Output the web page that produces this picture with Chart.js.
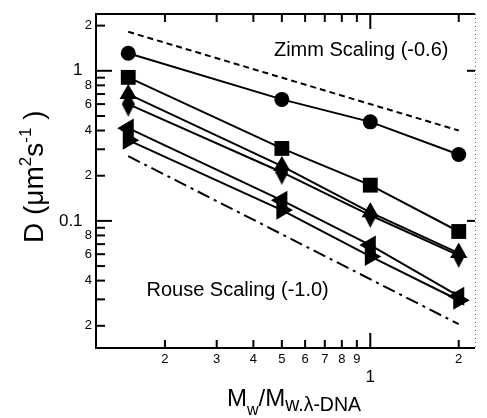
<!DOCTYPE html>
<html>
<head>
<meta charset="utf-8">
<script src="https://cdn.jsdelivr.net/npm/chart.js@4.4.1/dist/chart.umd.min.js"></script>
<style>
  html, body { margin: 0; padding: 0; background: #fff; }
  #wrap { width: 487px; height: 418px; position: relative; }
</style>
</head>
<body>
<div id="wrap"><canvas id="chart"></canvas></div>
<script>
// M_w / M_w,lambda-DNA
const ratio = [0.15, 0.5, 1, 2];

// D (um^2 s^-1), one array per marker
const dCircle = [1.31, 0.645, 0.457, 0.277];
const dSquare = [0.904, 0.304, 0.173, 0.085];
const dTriUp = [0.70, 0.232, 0.114, 0.061];
const dDiamond = [0.60, 0.211, 0.109, 0.059];
const dTriLeft = [0.415, 0.137, 0.069, 0.0315];
const dTriRight = [0.345, 0.118, 0.058, 0.0296];

// scaling guide lines
const guideX = [0.15, 2];
const zimmLine = [1.82, 0.40];
const rouseLine = [0.27, 0.0205];

// axis ticks
const xTicks = [0.2, 0.3, 0.4, 0.5, 0.6, 0.7, 0.8, 0.9, 1, 2];
const xTickLabels = ["2", "3", "4", "5", "6", "7", "8", "9", "1", "2"];
const xMajor = [1];
const yTicks = [0.02, 0.03, 0.04, 0.05, 0.06, 0.07, 0.08, 0.09, 0.1,
                0.2, 0.3, 0.4, 0.5, 0.6, 0.7, 0.8, 0.9, 1, 2];
const yTickLabels = ["2", "", "4", "", "6", "", "8", "", "0.1",
                     "2", "", "4", "", "6", "", "8", "", "1", "2"];
const yMajor = [0.1, 1];

// text notes, placed in data coordinates
const noteText = ["Zimm Scaling (-0.6)", "Rouse Scaling (-1.0)"];
const noteX = [0.47, 0.173];
const noteY = [1.253, 0.0315];

const FONT = "'Liberation Sans', Arial, sans-serif";

function points(ys, xs = ratio) {
    return ys.map((y, i) => ({ x: xs[i], y }));
}

// tall thin diamond marker
function diamondMarker() {
    const c = document.createElement("canvas");
    c.width = 13;
    c.height = 25;
    const g = c.getContext("2d");
    g.fillStyle = "#000";
    g.beginPath();
    g.moveTo(6.5, 0);
    g.lineTo(13, 12.5);
    g.lineTo(6.5, 25);
    g.lineTo(0, 12.5);
    g.closePath();
    g.fill();
    return c;
}

function series(data, style, radius, rotation = 0) {
    return {
        data: points(data),
        borderColor: "#000",
        borderWidth: 2,
        pointStyle: style,
        pointRadius: radius,
        pointHoverRadius: radius,
        pointRotation: rotation,
        pointBackgroundColor: "#000",
        pointBorderColor: "#000",
        pointBorderWidth: 0
    };
}

function guide(data, dash) {
    return {
        data: points(data, guideX),
        borderColor: "#000",
        borderWidth: 2,
        borderDash: dash,
        pointRadius: 0
    };
}

const frameAndText = {
    id: "frameAndText",
    afterDraw(chart) {
        const { ctx, chartArea: a, scales } = chart;
        const xs = scales.x, ys = scales.y;
        const seg = (x1, y1, x2, y2) => {
            ctx.beginPath();
            ctx.moveTo(x1, y1);
            ctx.lineTo(x2, y2);
            ctx.stroke();
        };
        ctx.save();
        ctx.strokeStyle = "#000";
        ctx.lineWidth = 2;

        xTicks.forEach((v) => {
            const px = xs.getPixelForValue(v);
            const len = xMajor.includes(v) ? 15 : 8;
            seg(px, a.bottom, px, a.bottom - len);
            seg(px, a.top, px, a.top + len);
        });
        yTicks.forEach((v) => {
            const py = ys.getPixelForValue(v);
            const len = yMajor.includes(v) ? 16 : 9;
            seg(a.left, py, a.left + len, py);
            if (yMajor.includes(v)) seg(a.right - 8, py, a.right, py);
        });

        seg(a.left, a.top - 1, a.left, a.bottom + 1);
        seg(a.left - 1, a.bottom, a.right, a.bottom);
        seg(a.left - 1, a.top, a.right, a.top);
        ctx.lineWidth = 1;
        ctx.strokeStyle = "#666";
        ctx.setLineDash([1, 3]);
        seg(a.right + 0.5, a.top, a.right + 0.5, a.bottom);
        ctx.setLineDash([]);

        // notes
        ctx.fillStyle = "#000";
        ctx.textBaseline = "alphabetic";
        ctx.textAlign = "left";
        ctx.font = `20px ${FONT}`;
        noteText.forEach((t, i) => {
            ctx.fillText(t, xs.getPixelForValue(noteX[i]), ys.getPixelForValue(noteY[i]));
        });

        // x title: M_w / M_w.λ-DNA
        let x = 227;
        const piece = (t, size, base) => {
            ctx.font = `${size}px ${FONT}`;
            ctx.fillText(t, x, base);
            x += ctx.measureText(t).width;
        };
        piece("M", 24, 406);
        piece("w", 16, 415);
        piece("/", 24, 406);
        piece("M", 24, 406);
        piece("w.\u03bb-DNA", 19.5, 411);

        // y title: D (μm² s⁻¹), rotated
        ctx.translate(43, 243);
        ctx.rotate(-Math.PI / 2);
        x = 0;
        piece("D (\u03bcm", 28, 0);
        piece("2", 17, -12);
        piece("s", 28, 0);
        piece("-1", 17, -12);
        piece(" )", 28, 0);
        ctx.restore();
    }
};

new Chart(document.getElementById("chart"), {
    type: "line",
    data: {
        datasets: [
            guide(zimmLine, [6, 4]),
            guide(rouseLine, [13, 5, 3, 5]),
            series(dCircle, "circle", 7.5),
            series(dSquare, "rect", 10.5),
            series(dTriUp, "triangle", 10),
            series(dDiamond, diamondMarker(), 12),
            series(dTriLeft, "triangle", 11, -90),
            series(dTriRight, "triangle", 11, 90)
        ]
    },
    options: {
        responsive: true,
        maintainAspectRatio: false,
        animation: false,
        parsing: false,
        layout: { padding: { left: 0, top: 14, right: 1, bottom: 0 } },
        plugins: {
            legend: { display: false },
            tooltip: { enabled: false }
        },
        scales: {
            x: {
                type: "logarithmic",
                min: 0.1165,
                max: 2.272,
                grid: { display: false, drawTicks: false },
                border: { display: false },
                afterBuildTicks: (s) => { s.ticks = xTicks.map((v) => ({ value: v })); },
                afterFit: (s) => { s.height = 70; },
                ticks: {
                    autoSkip: false,
                    maxRotation: 0,
                    padding: 4,
                    color: "#000",
                    font: (c) => xMajor.includes(c.tick && c.tick.value)
                        ? { family: FONT, size: 17, lineHeight: 1.0 }
                        : { family: FONT, size: 13, lineHeight: 1.2 },
                    callback: (v) => {
                        const idx = xTicks.indexOf(v);
                        if (idx < 0) return "";
                        return xMajor.includes(v) ? ["", xTickLabels[idx]] : xTickLabels[idx];
                    }
                }
            },
            y: {
                type: "logarithmic",
                min: 0.01423,
                max: 2.39,
                grid: { display: false, drawTicks: false },
                border: { display: false },
                afterBuildTicks: (s) => { s.ticks = yTicks.map((v) => ({ value: v })); },
                afterFit: (s) => { s.width = 96; },
                ticks: {
                    autoSkip: false,
                    padding: 4,
                    color: "#000",
                    font: (c) => ({ family: FONT, size: yMajor.includes(c.tick && c.tick.value) ? 17 : 13 }),
                    callback: (v) => {
                        const idx = yTicks.indexOf(v);
                        if (idx < 0) return "";
                        return yMajor.includes(v) ? yTickLabels[idx] + "  " : yTickLabels[idx];
                    }
                }
            }
        }
    },
    plugins: [frameAndText]
});
</script>
</body>
</html>
